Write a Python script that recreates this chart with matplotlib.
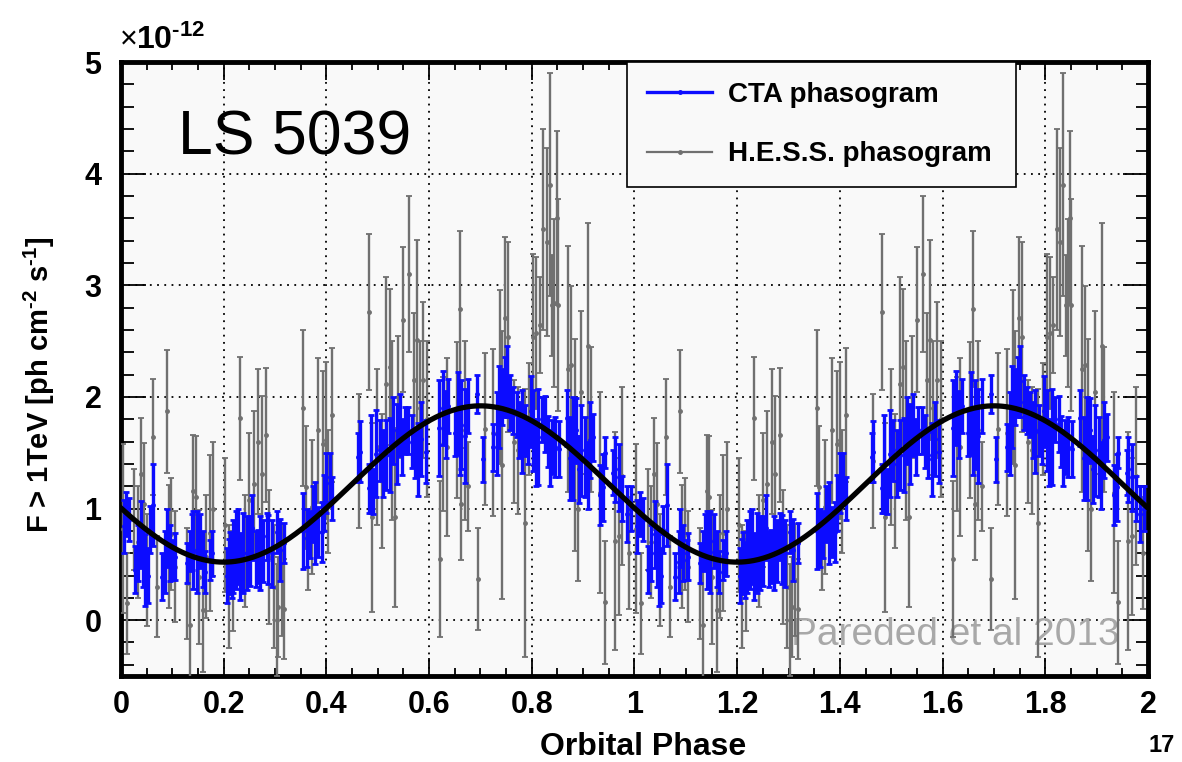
import numpy as np
import matplotlib
matplotlib.use("Agg")
from matplotlib import pyplot as plt
from matplotlib.lines import Line2D
from matplotlib.ticker import MultipleLocator

plt.rcParams['font.family'] = ['Liberation Sans', 'DejaVu Sans']
plt.rcParams['mathtext.fontset'] = 'custom'
plt.rcParams['mathtext.rm'] = 'Liberation Sans:bold'
plt.rcParams['mathtext.bf'] = 'Liberation Sans:bold'
plt.rcParams['mathtext.default'] = 'bf'

# one orbital period (flux in units of 1e-12), drawn twice
cta_phase = [0.005, 0.010, 0.016, 0.027, 0.033, 0.039, 0.043, 0.047, 0.052, 0.056,
             0.063, 0.079, 0.086, 0.089, 0.095, 0.102, 0.105, 0.128, 0.134, 0.138,
             0.141, 0.147, 0.154, 0.160, 0.164, 0.173, 0.178, 0.206, 0.210, 0.212,
             0.216, 0.219, 0.224, 0.228, 0.232, 0.238, 0.245, 0.251, 0.256, 0.262,
             0.266, 0.271, 0.277, 0.284, 0.287, 0.294, 0.303, 0.309, 0.318, 0.355,
             0.362, 0.368, 0.373, 0.378, 0.384, 0.391, 0.395, 0.400, 0.407, 0.411,
             0.462, 0.465, 0.482, 0.486, 0.491, 0.497, 0.504, 0.511, 0.517, 0.524,
             0.530, 0.537, 0.543, 0.548, 0.553, 0.559, 0.566, 0.572, 0.579, 0.585,
             0.594, 0.620, 0.627, 0.632, 0.637, 0.650, 0.656, 0.660, 0.663, 0.669,
             0.676, 0.694, 0.704, 0.725, 0.732, 0.736, 0.742, 0.747, 0.751, 0.758,
             0.764, 0.771, 0.776, 0.780, 0.787, 0.793, 0.798, 0.803, 0.808, 0.813,
             0.819, 0.826, 0.831, 0.835, 0.839, 0.845, 0.852, 0.868, 0.875, 0.881,
             0.887, 0.892, 0.896, 0.904, 0.909, 0.914, 0.920, 0.933, 0.939, 0.942,
             0.959, 0.962, 0.969, 0.976, 0.985, 0.993]
cta_flux = [0.84, 0.95, 0.90, 0.45, 0.60, 0.77, 0.55, 0.45, 0.40, 0.81,
            1.03, 0.39, 0.52, 0.74, 0.60, 0.54, 0.57, 0.51, 0.62, 0.70,
            0.63, 0.61, 0.71, 0.55, 0.43, 0.54, 0.60, 0.40, 0.48, 0.52,
            0.45, 0.57, 0.63, 0.66, 0.48, 0.60, 0.60, 0.62, 0.83, 0.55,
            0.57, 0.60, 0.62, 0.75, 0.63, 0.60, 0.79, 0.63, 0.69, 0.80,
            0.74, 0.77, 0.95, 0.87, 0.79, 0.79, 1.05, 1.23, 1.28, 1.09,
            1.46, 1.51, 1.18, 1.40, 1.15, 1.49, 1.52, 1.40, 1.48, 1.48,
            1.70, 1.58, 1.75, 1.55, 1.70, 1.70, 1.60, 1.48, 1.44, 1.62,
            1.51, 1.72, 1.90, 1.75, 1.92, 1.68, 1.85, 1.60, 1.75, 1.65,
            1.92, 2.03, 1.44, 1.55, 1.67, 1.91, 2.00, 2.09, 2.14, 1.95,
            1.88, 1.84, 1.70, 1.69, 1.70, 1.60, 1.87, 1.70, 1.50, 1.64,
            1.80, 1.76, 1.60, 1.45, 1.55, 1.55, 1.53, 1.81, 1.45, 1.54,
            1.70, 1.35, 1.52, 1.46, 1.30, 1.61, 1.64, 1.12, 1.19, 1.50,
            1.32, 1.35, 1.28, 1.09, 0.95, 1.00]
cta_err = [0.24, 0.20, 0.19, 0.21, 0.25, 0.30, 0.25, 0.32, 0.25, 0.21,
           0.37, 0.21, 0.28, 0.26, 0.25, 0.18, 0.21, 0.18, 0.18, 0.25,
           0.35, 0.37, 0.24, 0.25, 0.19, 0.18, 0.20, 0.25, 0.25, 0.27,
           0.25, 0.33, 0.35, 0.34, 0.30, 0.36, 0.33, 0.31, 0.29, 0.25,
           0.24, 0.33, 0.28, 0.21, 0.31, 0.30, 0.19, 0.28, 0.18, 0.34,
           0.26, 0.21, 0.25, 0.37, 0.22, 0.27, 0.25, 0.27, 0.22, 0.19,
           0.22, 0.27, 0.22, 0.44, 0.20, 0.39, 0.27, 0.30, 0.31, 0.33,
           0.30, 0.36, 0.28, 0.25, 0.21, 0.21, 0.24, 0.21, 0.33, 0.33,
           0.28, 0.43, 0.33, 0.30, 0.24, 0.21, 0.37, 0.30, 0.40, 0.42,
           0.24, 0.17, 0.20, 0.21, 0.37, 0.37, 0.25, 0.27, 0.32, 0.25,
           0.21, 0.20, 0.25, 0.37, 0.23, 0.20, 0.32, 0.36, 0.30, 0.43,
           0.20, 0.25, 0.23, 0.25, 0.24, 0.27, 0.25, 0.25, 0.37, 0.46,
           0.29, 0.30, 0.41, 0.36, 0.30, 0.34, 0.21, 0.27, 0.30, 0.14,
           0.20, 0.29, 0.30, 0.20, 0.25, 0.20]

hess_phase = [0.003, 0.012, 0.026, 0.033, 0.038, 0.044, 0.050, 0.062, 0.070, 0.089,
              0.093, 0.098, 0.105, 0.128, 0.134, 0.141, 0.146, 0.151, 0.160, 0.166,
              0.173, 0.180, 0.203, 0.210, 0.218, 0.232, 0.242, 0.250, 0.258, 0.267,
              0.274, 0.283, 0.289, 0.297, 0.303, 0.306, 0.313, 0.318, 0.355, 0.360,
              0.365, 0.371, 0.384, 0.394, 0.400, 0.404, 0.411, 0.464, 0.482, 0.488,
              0.499, 0.508, 0.517, 0.523, 0.528, 0.534, 0.540, 0.550, 0.561, 0.570,
              0.576, 0.582, 0.589, 0.596, 0.621, 0.628, 0.634, 0.654, 0.660, 0.663,
              0.669, 0.676, 0.695, 0.708, 0.725, 0.738, 0.742, 0.748, 0.754, 0.766,
              0.774, 0.786, 0.795, 0.803, 0.809, 0.816, 0.822, 0.829, 0.835, 0.840,
              0.844, 0.849, 0.851, 0.871, 0.877, 0.884, 0.890, 0.896, 0.910, 0.915,
              0.933, 0.942, 0.962, 0.969, 0.976, 0.990]
hess_flux = [0.82, 0.15, 0.90, 0.70, 1.31, 1.04, 0.45, 1.64, 0.30, 1.87,
             0.66, 0.77, 0.48, 0.33, -0.04, 1.16, 1.10, 0.39, 0.09, 0.57,
             0.78, 1.00, 0.85, 0.30, 0.35, 1.81, 0.62, 1.08, 1.22, 1.60,
             1.31, 1.66, 0.57, 0.30, 0.00, 0.12, 0.36, 0.10, 1.90, 1.19,
             0.57, 1.01, 1.70, 1.58, 1.61, 1.15, 1.84, 1.43, 2.76, 0.92,
             1.55, 1.25, 2.12, 2.27, 1.70, 0.92, 2.00, 2.69, 3.10, 2.15,
             2.51, 1.90, 2.15, 1.80, 0.55, 1.58, 1.55, 1.79, 2.79, 1.04,
             1.70, 1.20, 0.37, 1.71, 1.68, 2.18, 1.39, 2.71, 2.54, 1.60,
             1.52, 0.87, 1.80, 2.54, 2.57, 2.64, 3.50, 3.39, 3.90, 2.82,
             2.84, 3.60, 2.82, 2.25, 2.29, 1.57, 1.00, 2.04, 2.46, 1.80,
             1.14, 0.16, 0.71, 0.75, 1.29, 0.60]
hess_err = [0.76, 0.45, 0.45, 0.50, 0.50, 0.55, 0.50, 0.52, 0.45, 0.55,
            0.55, 0.50, 0.50, 0.50, 0.55, 0.50, 0.55, 0.60, 0.55, 0.55,
            0.70, 0.60, 0.60, 0.55, 0.45, 0.55, 0.50, 0.60, 0.65, 0.65,
            0.70, 0.60, 0.60, 0.55, 0.50, 0.45, 0.50, 0.45, 0.70, 0.55,
            0.30, 0.60, 0.65, 0.65, 0.70, 0.55, 0.60, 0.60, 0.70, 0.85,
            0.70, 0.60, 0.95, 0.70, 0.80, 0.80, 0.55, 0.65, 0.70, 0.60,
            0.90, 0.60, 0.70, 0.70, 0.70, 0.60, 0.80, 0.70, 0.70, 0.50,
            0.80, 0.40, 0.46, 0.68, 0.75, 0.78, 1.20, 0.72, 0.85, 0.55,
            0.57, 1.20, 0.50, 0.74, 0.68, 0.43, 0.90, 0.84, 1.00, 0.45,
            0.75, 0.78, 0.95, 1.10, 0.70, 0.95, 0.65, 0.73, 1.10, 0.65,
            0.90, 0.55, 0.98, 0.70, 0.80, 0.50]

# sinusoidal model drawn over the data
fit_mean = 1.22
fit_amp = 0.70
fit_peak = 0.70

n_periods = 2


def two_periods(phase, *cols):
    ph = np.concatenate([np.asarray(phase) + k for k in range(n_periods)])
    return (ph,) + tuple(np.tile(np.asarray(c), n_periods) for c in cols)


cta_x, cta_y, cta_e = two_periods(cta_phase, cta_flux, cta_err)
hess_x, hess_y, hess_e = two_periods(hess_phase, hess_flux, hess_err)

fig = plt.figure(figsize=(11.82, 7.62), dpi=100)
ax = fig.add_axes([0.1024, 0.1129, 0.8688, 0.8057])
ax.set_facecolor('#f9f9f9')

ax.errorbar(hess_x, hess_y, yerr=hess_e, fmt='o', color='#707070', ms=2.5,
            elinewidth=1.7, capsize=2.5, capthick=1.3, zorder=3)
ax.errorbar(cta_x, cta_y, yerr=cta_e, fmt='o', color='#0c0cff', ms=2.5,
            elinewidth=2.4, capsize=2.5, capthick=2.0, zorder=4)

xf = np.linspace(0, n_periods, 800)
ax.plot(xf, fit_mean + fit_amp * np.cos(2 * np.pi * (xf - fit_peak)),
        color='black', lw=3.8, zorder=5)

ax.set_xlim(0, 2)
ax.set_ylim(-0.5, 5)
ax.xaxis.set_minor_locator(MultipleLocator(0.05))
ax.yaxis.set_major_locator(MultipleLocator(1))
ax.yaxis.set_minor_locator(MultipleLocator(0.2))
ax.set_xticks(np.arange(0, 2.01, 0.2))
ax.set_xticklabels(['0', '0.2', '0.4', '0.6', '0.8', '1', '1.2', '1.4', '1.6', '1.8', '2'])
ax.grid(True, which='major', color='black', linestyle=(0, (1, 3)), linewidth=1.3, zorder=1)
ax.set_axisbelow(True)
ax.tick_params(which='both', direction='in', top=True, right=True, width=1.3)
ax.tick_params(which='major', labelsize=22)
ax.tick_params(axis='x', which='major', length=13, pad=10)
ax.tick_params(axis='x', which='minor', length=6)
ax.tick_params(axis='y', which='major', length=18, pad=14)
ax.tick_params(axis='y', which='minor', length=9)
for lab in ax.get_xticklabels() + ax.get_yticklabels():
    lab.set_fontweight('bold')
for sp in ax.spines.values():
    sp.set_linewidth(3.5)

ax.set_xlabel('Orbital Phase', fontsize=23, fontweight='bold')
ax.xaxis.set_label_coords(0.508, -0.092)
ax.set_ylabel(r'F > 1TeV [ph cm$^{\text{-2}}$ s$^{\text{-1}}$]', fontsize=21, fontweight='bold')
ax.yaxis.set_label_coords(-0.062, 0.474)

ax.text(-0.001, 1.01, '×', transform=ax.transAxes, fontsize=22,
        va='bottom', ha='left')
ax.text(0.015, 1.01, r'$\text{10}^{\text{-12}}$', transform=ax.transAxes,
        fontsize=23, va='bottom', ha='left')

ax.text(0.111, 4.17, 'LS 5039', fontsize=45, va='baseline', ha='left', zorder=6)
ax.text(1.945, -0.22, 'Pareded et al 2013', fontsize=28, color='#a8a8a8',
        va='baseline', ha='right', zorder=2)

handles = [Line2D([], [], color='#0c0cff', lw=2.4, marker='o', ms=2.5),
           Line2D([], [], color='#707070', lw=1.6, marker='o', ms=2.5)]
leg = ax.legend(handles, ['CTA phasogram', 'H.E.S.S. phasogram'],
                loc='upper left', bbox_to_anchor=(0.4927, 0.803, 0.379, 0.197),
                mode='expand', borderaxespad=0, fancybox=False, framealpha=1,
                facecolor='#f9f9f9', edgecolor='black', handlelength=2.35,
                prop={'weight': 'bold', 'size': 20}, labelspacing=1.2,
                borderpad=0.72, handletextpad=0.55)
leg.get_frame().set_linewidth(1.2)
leg.set_zorder(7)

fig.text(1148 / 1182, 1 - 734 / 762, '17', fontsize=17, fontweight='bold',
         va='top', ha='left')

fig.savefig('out.png', dpi=100)
